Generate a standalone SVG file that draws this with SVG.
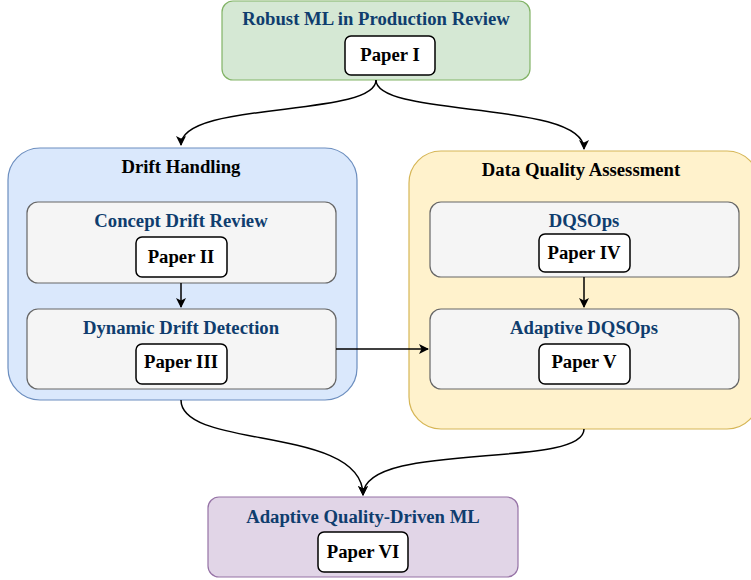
<svg xmlns="http://www.w3.org/2000/svg" width="751" height="580" viewBox="0 0 751 580">
<defs>
<marker id="arr" viewBox="0 0 10 10" refX="9" refY="5" markerWidth="10" markerHeight="10" markerUnits="userSpaceOnUse" orient="auto">
<path d="M0,0 L10,5 L0,10 L2.5,5 Z" fill="#000"/>
</marker>
<style>
text{font-family:"Liberation Serif","Times New Roman",serif;font-weight:bold;font-size:18.7px;text-anchor:middle}
.t{fill:#0f3d6e}
.k{fill:#000}
.paper{fill:#fff;stroke:#000;stroke-width:1.5}
.inner{fill:#f5f5f5;stroke:#666;stroke-width:1.2}
.edge{fill:none;stroke:#000;stroke-width:1.5}
</style>
</defs>
<g id="review">
<rect x="222" y="1" width="308" height="79" rx="11" fill="#d5e8d4" stroke="#82b366" stroke-width="1.2"/>
<text class="t" x="376" y="25">Robust ML in Production Review</text>
<rect class="paper" x="345" y="36" width="90" height="39" rx="6"/>
<text class="k" x="390" y="61">Paper I</text>
</g>
<g id="drift">
<rect x="8" y="148" width="349" height="252" rx="32" fill="#dae8fc" stroke="#6c8ebf" stroke-width="1.2"/>
<text class="k" x="181" y="173">Drift Handling</text>
</g>
<g id="concept">
<rect class="inner" x="27" y="202" width="309" height="81" rx="11"/>
<text class="t" x="181" y="227">Concept Drift Review</text>
<rect class="paper" x="136" y="237" width="91" height="40" rx="6"/>
<text class="k" x="181" y="263">Paper II</text>
</g>
<g id="dynamic">
<rect class="inner" x="27" y="309" width="309" height="80" rx="11"/>
<text class="t" x="181" y="334">Dynamic Drift Detection</text>
<rect class="paper" x="136" y="344" width="91" height="40" rx="6"/>
<text class="k" x="181" y="368">Paper III</text>
</g>
<g id="dqa">
<rect x="409" y="151" width="350" height="278" rx="32" fill="#fff2cc" stroke="#d6b656" stroke-width="1.2"/>
<text class="k" x="581" y="176">Data Quality Assessment</text>
</g>
<g id="dqsops">
<rect class="inner" x="430" y="202" width="309" height="75" rx="11"/>
<text class="t" x="584" y="227">DQSOps</text>
<rect class="paper" x="539" y="234" width="91" height="38" rx="6"/>
<text class="k" x="584" y="259">Paper IV</text>
</g>
<g id="adaptive">
<rect class="inner" x="430" y="309" width="309" height="80" rx="11"/>
<text class="t" x="584" y="334">Adaptive DQSOps</text>
<rect class="paper" x="539" y="344" width="91" height="40" rx="6"/>
<text class="k" x="584" y="368">Paper V</text>
</g>
<g id="aqdml">
<rect x="208" y="497" width="310" height="80" rx="11" fill="#e1d5e7" stroke="#9673a6" stroke-width="1.2"/>
<text class="t" x="363" y="523">Adaptive Quality-Driven ML</text>
<rect class="paper" x="318" y="532" width="90" height="40" rx="6"/>
<text class="k" x="363" y="558">Paper VI</text>
</g>
<g id="connectors">
<path class="edge" d="M376,80 C376,118 181,100 181,145" marker-end="url(#arr)"/>
<path class="edge" d="M376,80 C376,118 584,100 584,149" marker-end="url(#arr)"/>
<path class="edge" d="M181,283 L181,307" marker-end="url(#arr)"/>
<path class="edge" d="M584,277 L584,307" marker-end="url(#arr)"/>
<path class="edge" d="M336,349 L428,349" marker-end="url(#arr)"/>
<path class="edge" d="M181,400 C181,450 363,425 363,495" marker-end="url(#arr)"/>
<path class="edge" d="M584,429 C584,470 363,440 363,495" marker-end="url(#arr)"/>
</g>
</svg>
